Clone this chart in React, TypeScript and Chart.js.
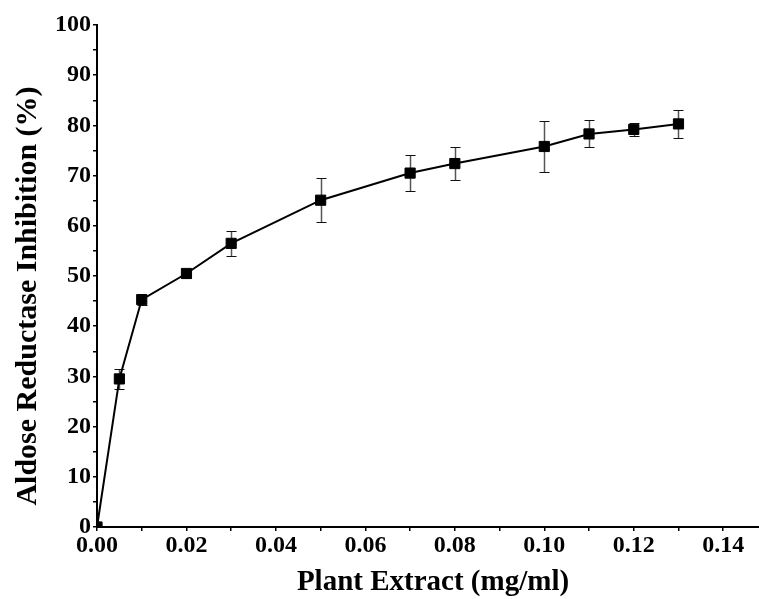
import { useEffect, useRef } from "react";
import { Chart, registerables } from "chart.js";

Chart.register(...registerables);

// Plant extract concentration (mg/ml) and mean aldose reductase inhibition (%) with SD
const concentrations = [0, 0.005, 0.01, 0.02, 0.03, 0.05, 0.07, 0.08, 0.1, 0.11, 0.12, 0.13];
const inhibition = [0, 29.5, 45.3, 50.5, 56.5, 65.1, 70.5, 72.4, 75.8, 78.3, 79.2, 80.3];
const stdDev = [0, 2.0, 1.0, 0.9, 2.5, 4.4, 3.6, 3.2, 5.1, 2.7, 1.3, 2.75];

const xTitle = "Plant Extract (mg/ml)";
const yTitle = "Aldose Reductase Inhibition (%)";

const FONT_FAMILY = '"Liberation Serif", "Times New Roman", serif';

// Vertical error bars with short caps, drawn under the markers
const errorBarsPlugin = {
  id: "errorBars",
  beforeDatasetsDraw(chart: any) {
    const { ctx, scales } = chart;
    const xs = scales.x;
    const ys = scales.y;
    ctx.save();
    concentrations.forEach((c, i) => {
      const e = stdDev[i];
      if (!e) return;
      const px = Math.round(xs.getPixelForValue(c)) + 0.5;
      const top = Math.round(ys.getPixelForValue(inhibition[i] + e)) + 0.5;
      const bot = Math.round(ys.getPixelForValue(inhibition[i] - e)) + 0.5;
      ctx.strokeStyle = "#555";
      ctx.lineWidth = 1.5;
      ctx.beginPath();
      ctx.moveTo(px, top);
      ctx.lineTo(px, bot);
      ctx.stroke();
      ctx.strokeStyle = "#111";
      ctx.lineWidth = 1;
      ctx.beginPath();
      ctx.moveTo(px - 5, top);
      ctx.lineTo(px + 5, top);
      ctx.moveTo(px - 5, bot);
      ctx.lineTo(px + 5, bot);
      ctx.stroke();
    });
    ctx.restore();
  },
};

// Axis titles placed relative to the plotting area
const axisTitlesPlugin = {
  id: "axisTitles",
  afterDraw(chart: any) {
    const { ctx, chartArea } = chart;
    ctx.save();
    ctx.fillStyle = "#000";
    ctx.font = `bold 29px ${FONT_FAMILY}`;
    ctx.textAlign = "center";
    ctx.textBaseline = "alphabetic";
    ctx.fillText(xTitle, (chartArea.left + chartArea.right) / 2 + 5, chartArea.bottom + 63);

    ctx.font = `bold 30px ${FONT_FAMILY}`;
    ctx.translate(chartArea.left - 61, (chartArea.top + chartArea.bottom) / 2 + 20);
    ctx.rotate(-Math.PI / 2);
    ctx.fillText(yTitle, 0, 0);
    ctx.restore();
  },
};

export default function App() {
  const canvasRef = useRef<HTMLCanvasElement | null>(null);

  useEffect(() => {
    if (!canvasRef.current) return;
    const tickFont = { family: FONT_FAMILY, weight: "bold" as const, size: 24 };
    const chart = new Chart(canvasRef.current, {
      type: "line",
      data: {
        datasets: [
          {
            data: concentrations.map((c, i) => ({ x: c, y: inhibition[i] })),
            borderColor: "#000",
            borderWidth: 2,
            tension: 0,
            pointStyle: "rect",
            pointRadius: 7.2,
            pointBackgroundColor: "#000",
            pointBorderColor: "#000",
            pointBorderWidth: 1,
          },
        ],
      },
      options: {
        animation: false,
        responsive: false,
        maintainAspectRatio: false,
        devicePixelRatio: 1,
        layout: { autoPadding: false, padding: { left: 0, top: 25, right: 0, bottom: 0 } },
        plugins: {
          legend: { display: false },
          tooltip: { enabled: false },
        },
        scales: {
          x: {
            type: "linear",
            min: 0,
            max: 0.148,
            afterFit(scale: any) {
              scale.height = 72;
              scale.paddingLeft = 0;
              scale.paddingRight = 0;
            },
            border: { display: true, color: "#000", width: 2 },
            grid: {
              display: true,
              drawOnChartArea: false,
              drawTicks: true,
              tickLength: 4,
              color: "#000",
              lineWidth: 1.5,
            },
            ticks: {
              stepSize: 0.01,
              includeBounds: false,
              autoSkip: false,
              maxRotation: 0,
              color: "#000",
              font: tickFont,
              padding: 0,
              callback: (v: any) => {
                const n = Math.round(Number(v) * 100);
                return n % 2 === 0 ? (n / 100).toFixed(2) : "";
              },
            },
          },
          y: {
            type: "linear",
            min: 0,
            max: 100,
            afterFit(scale: any) {
              scale.width = 97;
            },
            border: { display: true, color: "#000", width: 2 },
            grid: {
              display: true,
              drawOnChartArea: false,
              drawTicks: true,
              tickLength: 4,
              color: "#000",
              lineWidth: 1.5,
            },
            ticks: {
              stepSize: 5,
              autoSkip: false,
              color: "#000",
              font: tickFont,
              padding: 2,
              callback: (v: any) => {
                const n = Math.round(Number(v));
                return n % 10 === 0 ? String(n) : "";
              },
            },
          },
        },
      },
      plugins: [errorBarsPlugin, axisTitlesPlugin],
    });
    return () => chart.destroy();
  }, []);

  return (
    <div style={{ position: "fixed", left: 0, top: 0, width: 759, height: 599, background: "#fff" }}>
      <canvas ref={canvasRef} width={759} height={599} style={{ display: "block" }} />
    </div>
  );
}
